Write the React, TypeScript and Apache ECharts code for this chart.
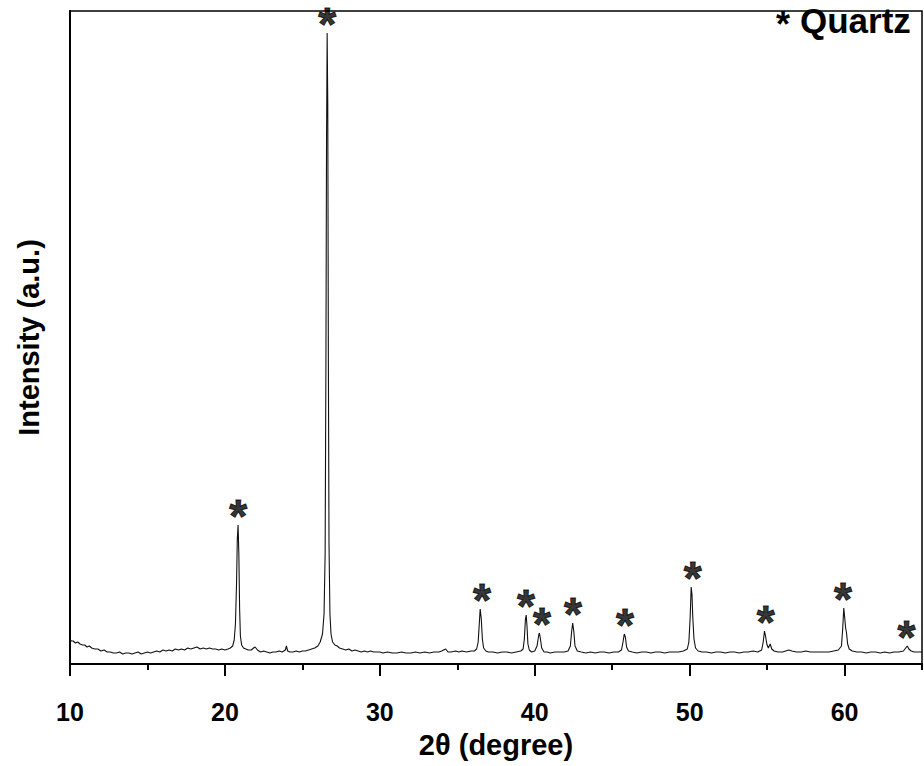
import React, { useEffect, useRef } from "react";
import * as echarts from "echarts";

const twoTheta: number[] = [
  10.0, 10.1, 10.2, 10.35, 10.5, 10.65, 10.8, 10.95, 11.1, 11.25, 11.4, 11.6, 11.8, 12.0, 12.2, 12.4, 12.6, 12.8, 13.0, 13.2,
  13.4, 13.6, 13.8, 14.0, 14.2, 14.4, 14.6, 14.8, 15.0, 15.2, 15.4, 15.6, 15.8, 16.0, 16.2, 16.4, 16.6, 16.8, 17.0, 17.2,
  17.4, 17.6, 17.8, 18.0, 18.2, 18.4, 18.6, 18.8, 19.0, 19.2, 19.4, 19.6, 19.8, 20.0, 20.2, 20.35, 20.5, 20.6, 20.68, 20.75,
  20.8, 20.85, 20.9, 20.95, 21.0, 21.08, 21.2, 21.35, 21.5, 21.7, 21.85, 21.95, 22.1, 22.3, 22.5, 22.7, 22.9, 23.1, 23.3, 23.5,
  23.7, 23.9, 23.97, 24.05, 24.2, 24.4, 24.6, 24.8, 25.0, 25.2, 25.4, 25.6, 25.8, 26.0, 26.15, 26.3, 26.4, 26.47, 26.52, 26.56,
  26.6, 26.64, 26.68, 26.72, 26.78, 26.85, 26.95, 27.1, 27.25, 27.4, 27.6, 27.8, 28.0, 28.2, 28.4, 28.6, 28.8, 29.0, 29.2, 29.4,
  29.6, 29.8, 30.0, 30.2, 30.5, 30.8, 31.1, 31.4, 31.7, 32.0, 32.3, 32.6, 32.9, 33.2, 33.5, 33.8, 34.0, 34.25, 34.4, 34.6,
  34.9, 35.1, 35.3, 35.6, 35.9, 36.1, 36.25, 36.35, 36.42, 36.48, 36.55, 36.62, 36.7, 36.85, 37.0, 37.3, 37.6, 37.9, 38.2, 38.5,
  38.8, 39.1, 39.25, 39.33, 39.4, 39.45, 39.5, 39.56, 39.65, 39.8, 40.0, 40.15, 40.25, 40.3, 40.36, 40.45, 40.6, 40.8, 41.0, 41.3,
  41.6, 41.9, 42.15, 42.3, 42.38, 42.45, 42.52, 42.6, 42.75, 43.0, 43.3, 43.6, 43.9, 44.2, 44.5, 44.8, 45.1, 45.4, 45.6, 45.7,
  45.78, 45.85, 45.93, 46.05, 46.3, 46.6, 46.9, 47.2, 47.5, 47.8, 48.1, 48.4, 48.7, 49.0, 49.3, 49.6, 49.85, 49.95, 50.03, 50.1,
  50.15, 50.2, 50.28, 50.38, 50.55, 50.8, 51.1, 51.4, 51.7, 52.0, 52.3, 52.6, 52.9, 53.2, 53.5, 53.8, 54.1, 54.4, 54.65, 54.75,
  54.83, 54.9, 54.98, 55.08, 55.2, 55.3, 55.45, 55.7, 56.0, 56.2, 56.4, 56.6, 56.9, 57.2, 57.5, 57.8, 58.1, 58.4, 58.7, 59.0,
  59.3, 59.6, 59.8, 59.88, 59.95, 60.0, 60.07, 60.12, 60.2, 60.3, 60.5, 60.8, 61.1, 61.4, 61.7, 62.0, 62.3, 62.6, 62.9, 63.2,
  63.5, 63.8, 63.95, 64.05, 64.15, 64.3, 64.5, 64.8, 65.0,
];

const intensity: number[] = [
  24, 23, 23, 21, 22, 20, 19, 19, 17, 18, 16, 15, 15, 13, 14, 12, 12, 11, 11, 12,
  10, 11, 11, 10, 11, 12, 10, 11, 12, 11, 12, 13, 12, 14, 13, 14, 13, 15, 14, 15,
  14, 16, 15, 16, 17, 15, 16, 15, 16, 15, 15, 14, 15, 14, 15, 16, 18, 24, 40, 80,
  125, 139, 110, 55, 28, 19, 16, 15, 14, 14, 16, 17, 14, 12, 13, 12, 11, 12, 12, 13,
  12, 14, 18, 13, 12, 12, 13, 12, 13, 13, 14, 15, 16, 18, 22, 30, 50, 110, 300, 520,
  631, 560, 300, 120, 50, 30, 22, 19, 18, 16, 15, 14, 15, 13, 14, 13, 12, 13, 12, 13,
  12, 12, 12, 11, 12, 11, 11, 12, 11, 11, 12, 11, 12, 11, 12, 12, 13, 15, 12, 12,
  13, 12, 13, 12, 13, 13, 15, 22, 40, 55, 45, 25, 16, 13, 12, 12, 11, 12, 12, 11,
  12, 13, 15, 25, 45, 49, 38, 20, 14, 12, 13, 18, 28, 31, 26, 16, 12, 12, 11, 12,
  12, 12, 13, 18, 32, 41, 33, 18, 13, 12, 11, 12, 11, 12, 12, 11, 12, 12, 14, 22,
  30, 27, 17, 13, 12, 11, 12, 12, 11, 12, 12, 11, 12, 12, 12, 13, 15, 22, 45, 77,
  70, 48, 25, 16, 13, 12, 12, 11, 12, 12, 11, 12, 12, 11, 12, 12, 13, 12, 14, 22,
  33, 28, 20, 16, 20, 15, 13, 12, 12, 13, 14, 13, 12, 12, 13, 12, 12, 12, 12, 12,
  13, 14, 18, 35, 56, 48, 36, 32, 20, 15, 13, 12, 12, 11, 12, 12, 11, 12, 11, 12,
  12, 13, 16, 18, 15, 13, 12, 12, 12,
];

// quartz reflections marked with an asterisk: position and peak height
const quartzPeakX: number[] = [20.86, 26.6, 36.6, 39.43, 40.47, 42.47, 45.83, 50.2, 54.91, 59.9, 64.0];
const quartzPeakY: number[] = [139, 631, 55, 49, 31, 41, 30, 77, 33, 56, 18];

const xTicks: number[] = [10, 20, 30, 40, 50, 60];
const xTitle = "2θ (degree)";
const yTitle = "Intensity (a.u.)";
const legendLabel = "Quartz";

const FONT = "'Liberation Sans', Arial, sans-serif";

export default function App() {
  const ref = useRef<HTMLDivElement>(null);

  useEffect(() => {
    if (!ref.current) return;
    const chart = echarts.init(ref.current, undefined, { renderer: "svg" });
    const lineData = twoTheta.map((x, i) => [x, intensity[i]]);
    const starData = quartzPeakX.map((x, i) => [x, quartzPeakY[i]]);

    chart.setOption({
      animation: false,
      backgroundColor: "#ffffff",
      textStyle: { fontFamily: FONT },
      grid: {
        left: 70,
        right: 2,
        top: 11,
        bottom: 102,
        show: true,
        borderColor: "#000",
        borderWidth: 1.5,
        backgroundColor: "transparent",
      },
      xAxis: [
        {
          type: "value",
          min: xTicks[0],
          max: 65,
          interval: 10,
          axisLine: { show: true, onZero: false, lineStyle: { color: "#000", width: 2 } },
          axisTick: { show: true, inside: false, length: 12, lineStyle: { color: "#000", width: 2 } },
          axisLabel: {
            show: true,
            margin: 35,
            showMaxLabel: false,
            color: "#000",
            fontFamily: FONT,
            fontWeight: "bold",
            fontSize: 25,
          },
          splitLine: { show: false },
          name: xTitle,
          nameLocation: "middle",
          nameGap: 66,
          nameTextStyle: { color: "#000", fontFamily: FONT, fontWeight: "bold", fontSize: 29 },
        },
        {
          type: "value",
          min: xTicks[0],
          max: 65,
          interval: 5,
          position: "bottom",
          axisLine: { show: false },
          axisTick: { show: true, inside: false, length: 6, lineStyle: { color: "#000", width: 2 } },
          axisLabel: { show: false },
          splitLine: { show: false },
        },
      ],
      yAxis: {
        type: "value",
        min: 0,
        max: 653,
        axisLine: { show: true, onZero: false, lineStyle: { color: "#000", width: 2 } },
        axisTick: { show: false },
        axisLabel: { show: false },
        splitLine: { show: false },
        name: yTitle,
        nameLocation: "middle",
        nameGap: 27,
        nameTextStyle: { color: "#000", fontFamily: FONT, fontWeight: "bold", fontSize: 29 },
      },
      series: [
        {
          type: "line",
          xAxisIndex: 0,
          data: lineData,
          showSymbol: false,
          symbol: "none",
          lineStyle: { color: "#111", width: 1.1 },
          z: 2,
        },
        {
          type: "scatter",
          xAxisIndex: 0,
          data: starData,
          symbolSize: 0,
          silent: true,
          itemStyle: { color: "#000" },
          label: {
            show: true,
            formatter: "*",
            position: "top",
            distance: 0,
            offset: [0, 3],
            lineHeight: 24,
            color: "#000",
            textBorderColor: "#000",
            textBorderWidth: 1,
            fontFamily: FONT,
            fontWeight: "bold",
            fontSize: 46,
          },
          z: 3,
        },
      ],
      graphic: [
        {
          type: "text",
          left: 776,
          top: 6,
          style: { text: "*", fill: "#000", font: `bold 36px ${FONT}` },
        },
        {
          type: "text",
          left: 800,
          top: 3,
          style: { text: legendLabel, fill: "#000", font: `bold 35px ${FONT}` },
        },
      ],
    });

    return () => chart.dispose();
  }, []);

  return (
    <div
      ref={ref}
      style={{ position: "fixed", left: 0, top: 0, width: 924, height: 766, background: "#fff" }}
    />
  );
}
